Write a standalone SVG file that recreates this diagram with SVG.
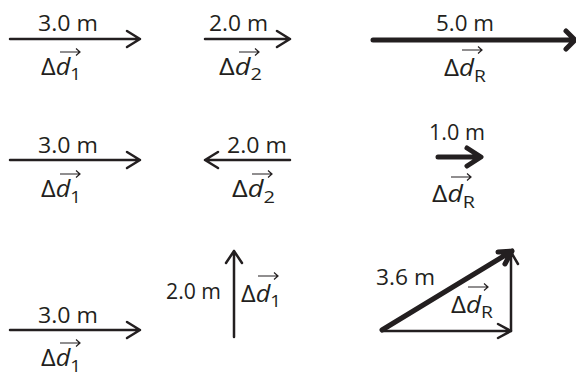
<svg xmlns="http://www.w3.org/2000/svg" width="576" height="373" viewBox="0 0 576 373">
<style>
.t{font-family:"Open Sans","Liberation Sans",sans-serif;font-size:22px;fill:#231f20}
.v{font-family:"Open Sans","Liberation Sans",sans-serif;font-size:23px;fill:#231f20}
.i{font-style:italic}
.s{font-size:17px;font-style:normal}
.ln{stroke:#231f20;stroke-width:2.5;fill:none;stroke-linecap:round;stroke-linejoin:round}
.th{stroke:#231f20;stroke-width:5;fill:none;stroke-linecap:round;stroke-linejoin:round}
.va{stroke:#231f20;stroke-width:1.2;fill:none}
</style>
<rect width="576" height="373" fill="#fff"/>
<g id="connectors">
<path class="ln" d="M10,39H140M127,31L140,39L127,47"/>
<path class="ln" d="M205,39H290M277,31L290,39L277,47"/>
<path class="th" d="M373,40H574M566,31L575,40L566,49"/>
<path class="ln" d="M10,160H140M127,152L140,160L127,168"/>
<path class="ln" d="M205,160H290M218,152L205,160L218,168"/>
<path class="th" d="M438,157H480M467,148L481,157L467,166"/>
<path class="ln" d="M10,330H140M127,322L140,330L127,338"/>
<path class="ln" d="M234,337V251M226,263L234,251L242,263"/>
<path class="ln" d="M382,331H511M498,324L511,331L498,338"/>
<path class="ln" d="M511,331V252M504,264L511,252L518,264"/>
<path class="th" d="M382,330L512,251M498,252L512,251L505,264"/>
</g>
<g id="n1">
<text class="t" x="38" y="31" textLength="60" lengthAdjust="spacingAndGlyphs">3.0 m</text>
<text class="v" x="41" y="75" textLength="40" lengthAdjust="spacingAndGlyphs">Δ<tspan class="i">d</tspan><tspan class="s" dy="5">1</tspan></text>
<path class="va" d="M60,52H80M76,48.5L80,52L76,55.5"/>
</g>
<g id="n2">
<text class="t" x="209" y="31" textLength="59" lengthAdjust="spacingAndGlyphs">2.0 m</text>
<text class="v" x="219" y="75" textLength="43" lengthAdjust="spacingAndGlyphs">Δ<tspan class="i">d</tspan><tspan class="s" dy="5">2</tspan></text>
<path class="va" d="M239,52H259M255,48.5L259,52L255,55.5"/>
</g>
<g id="n3">
<text class="t" x="436" y="31" textLength="58" lengthAdjust="spacingAndGlyphs">5.0 m</text>
<text class="v" x="444" y="76" textLength="42" lengthAdjust="spacingAndGlyphs">Δ<tspan class="i">d</tspan><tspan class="s" dy="6">R</tspan></text>
<path class="va" d="M462,50H482M478,46.5L482,50L478,53.5"/>
</g>
<g id="n4">
<text class="t" x="38" y="153" textLength="60" lengthAdjust="spacingAndGlyphs">3.0 m</text>
<text class="v" x="41" y="197" textLength="40" lengthAdjust="spacingAndGlyphs">Δ<tspan class="i">d</tspan><tspan class="s" dy="6">1</tspan></text>
<path class="va" d="M60,174H80M76,170.5L80,174L76,177.5"/>
</g>
<g id="n5">
<text class="t" x="227" y="153" textLength="60" lengthAdjust="spacingAndGlyphs">2.0 m</text>
<text class="v" x="232" y="197" textLength="43" lengthAdjust="spacingAndGlyphs">Δ<tspan class="i">d</tspan><tspan class="s" dy="6">2</tspan></text>
<path class="va" d="M252,174H272M268,170.5L272,174L268,177.5"/>
</g>
<g id="n6">
<text class="t" x="429" y="140" textLength="56" lengthAdjust="spacingAndGlyphs">1.0 m</text>
<text class="v" x="432" y="202" textLength="43" lengthAdjust="spacingAndGlyphs">Δ<tspan class="i">d</tspan><tspan class="s" dy="6">R</tspan></text>
<path class="va" d="M451,177H471M467,173.5L471,177L467,180.5"/>
</g>
<g id="n7">
<text class="t" x="38" y="323" textLength="60" lengthAdjust="spacingAndGlyphs">3.0 m</text>
<text class="v" x="41" y="366" textLength="40" lengthAdjust="spacingAndGlyphs">Δ<tspan class="i">d</tspan><tspan class="s" dy="6">1</tspan></text>
<path class="va" d="M60,343H80M76,339.5L80,343L76,346.5"/>
</g>
<g id="n8">
<text class="t" x="166" y="299" textLength="55" lengthAdjust="spacingAndGlyphs">2.0 m</text>
<text class="v" x="241" y="302" textLength="40" lengthAdjust="spacingAndGlyphs">Δ<tspan class="i">d</tspan><tspan class="s" dy="5">1</tspan></text>
<path class="va" d="M258,276H278M274,272.5L278,276L274,279.5"/>
</g>
<g id="n9">
<text class="t" x="376" y="285" textLength="59" lengthAdjust="spacingAndGlyphs">3.6 m</text>
<text class="v" x="451" y="313" textLength="42" lengthAdjust="spacingAndGlyphs">Δ<tspan class="i">d</tspan><tspan class="s" dy="5">R</tspan></text>
<path class="va" d="M468,287H488M484,283.5L488,287L484,290.5"/>
</g>
</svg>
